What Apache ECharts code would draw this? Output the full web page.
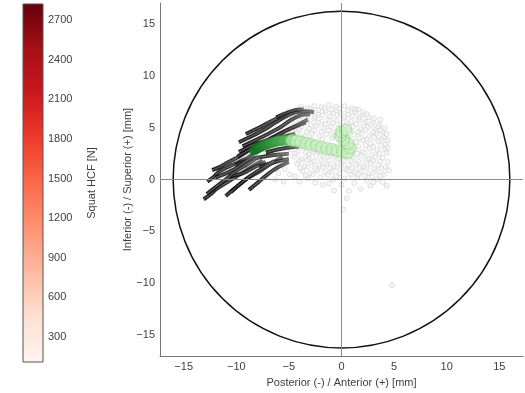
<!DOCTYPE html>
<html><head><meta charset="utf-8">
<script src="https://cdn.jsdelivr.net/npm/echarts@6/dist/echarts.min.js"></script>
<style>html,body{margin:0;padding:0;background:#fff}#c{width:525px;height:393px}</style>
</head><body><div id="c"></div>
<script>
// ---- colorbar ----
const cbMin = 111, cbMax = 2821;
const cbTicks = [300, 600, 900, 1200, 1500, 1800, 2100, 2400, 2700];
const cbTitle = 'Squat HCF [N]';
// ---- main axes ----
const xTicks = [-15, -10, -5, 0, 5, 10, 15];
const yTicks = [-15, -10, -5, 0, 5, 10, 15];
const xName = 'Posterior (-) / Anterior (+) [mm]';
const yName = 'Inferior (-) / Superior (+) [mm]';
const circleRadius = 16;
// ---- dark trajectories (mm) ----
const darkTraces = [
  [[-13.1,-1.9],[-12.4,-1.4],[-12.0,-1.0],[-11.0,-0.35],[-10.3,0.1],[-9.75,0.45],[-8.5,1.23],[-7.5,1.87]],
  [[-12.75,-0.2],[-12.1,0.3],[-11.65,0.76],[-10.4,1.4],[-9.1,2.0],[-8.2,2.66]],
  [[-12.3,0.9],[-11.6,1.2],[-11.0,1.55],[-9.75,2.2],[-8.8,2.8]],
  [[-11.0,-1.6],[-10.1,-0.8],[-9.1,0.0],[-7.85,0.76],[-6.9,1.4],[-5.6,2.2]],
  [[-8.8,-1.0],[-7.85,-0.2],[-6.9,0.6],[-5.95,1.23],[-5.0,1.7]],
  [[-10.7,0.3],[-9.4,0.6],[-8.2,1.23],[-7.2,1.7]],
  [[-9.75,3.6],[-8.5,4.2],[-7.2,4.9],[-6.3,5.5],[-5.3,6.1],[-4.4,6.5],[-3.4,6.6],[-2.6,6.5]],
  [[-9.75,2.66],[-8.5,3.3],[-7.2,3.77],[-5.95,4.4],[-4.7,5.0],[-3.4,5.5]],
  [[-9.1,4.4],[-7.85,5.0],[-6.6,5.67],[-5.6,6.1],[-4.8,6.4]],
  [[-8.2,3.1],[-6.9,3.6],[-5.6,4.1],[-4.4,4.4]],
  [[-10.1,1.4],[-8.5,2.0],[-6.6,2.35],[-5.0,2.5]],
  [[-7.85,1.23],[-6.3,1.7],[-5.0,2.0]],
  [[-12.8,-1.4],[-11.8,-0.6],[-10.9,0.1],[-9.9,0.9],[-8.9,1.5],[-7.9,2.2]],
  [[-12.0,0.2],[-11.2,0.5],[-10.2,1.0],[-9.3,1.6],[-8.4,2.3]],
  [[-10.5,-1.2],[-9.6,-0.4],[-8.6,0.4],[-7.5,1.1],[-6.4,1.8]],
  [[-9.9,2.2],[-8.9,2.8],[-7.8,3.4],[-6.7,3.9],[-5.5,4.6],[-4.3,5.2],[-3.2,5.8]],
  [[-9.4,3.2],[-8.2,3.8],[-7.0,4.4],[-5.9,5.0],[-4.9,5.7],[-3.9,6.2],[-3.0,6.3]],
  [[-6.2,6.0],[-5.3,6.4],[-4.4,6.7],[-3.6,6.8]],
  [[-7.2,2.6],[-6.1,2.9],[-5.0,3.1],[-4.0,3.2]]
];
// ---- light grey cloud (mm) ----
const cloudPts = [
  [-3.2,6.9],[-2.6,7.1],[-1.9,7.0],[-1.2,7.2],[-0.5,7.0],[0.3,7.1],[1.0,6.9],[1.6,6.8],
  [-4.3,6.2],[-3.6,6.4],[-2.9,6.5],[-2.2,6.3],[-1.5,6.6],[-0.8,6.4],[-0.1,6.5],[0.6,6.3],[1.3,6.5],[2.0,6.2],[2.6,6.0],
  [-4.8,5.6],[-4.0,5.8],[-3.3,5.7],[-2.6,5.9],[-1.9,5.6],[-1.2,5.8],[-0.5,5.7],[0.2,5.9],[0.9,5.6],[1.6,5.8],[2.3,5.6],[3.0,5.5],[3.6,5.3],
  [-4.5,5.0],[-3.8,5.1],[-3.1,4.9],[-2.4,5.2],[-1.7,5.0],[-1.0,5.1],[-0.3,5.0],[1.1,5.1],[1.8,4.9],[2.5,5.1],[3.2,4.8],[3.9,4.6],
  [-4.9,4.3],[-4.2,4.5],[-3.5,4.2],[-2.8,4.4],[-2.1,4.2],[-1.4,4.4],[-0.7,4.2],[1.2,4.3],[1.9,4.5],[2.6,4.2],[3.3,4.4],[4.0,4.1],
  [-4.6,3.5],[-3.9,3.7],[1.4,3.6],[2.1,3.8],[2.8,3.5],[3.5,3.7],[4.2,3.4],
  [-4.8,2.9],[-4.1,2.7],[-3.4,2.6],[-2.7,2.7],[1.3,2.9],[2.0,2.7],[2.7,3.0],[3.4,2.8],[4.1,2.9],
  [-4.5,2.2],[-3.8,2.0],[-3.1,2.1],[-2.4,2.3],[-1.7,2.1],[-1.0,2.3],[-0.3,2.0],[0.4,2.2],[1.1,2.1],[1.8,2.3],[2.5,2.0],[3.2,2.2],[3.9,2.1],
  [-4.2,1.5],[-3.5,1.3],[-2.8,1.6],[-2.1,1.4],[-1.4,1.5],[-0.7,1.3],[0.0,1.6],[0.7,1.4],[1.4,1.5],[2.1,1.3],[2.8,1.6],[3.5,1.4],[4.2,1.2],
  [-3.7,0.8],[-3.0,0.6],[-2.3,0.9],[-1.6,0.7],[-0.9,0.8],[-0.2,0.6],[0.5,0.9],[1.2,0.7],[1.9,0.8],[2.6,0.6],[3.3,0.8],[4.0,0.5],
  [-3.2,0.1],[-2.0,0.2],[-0.8,0.0],[0.3,0.1],[1.5,0.2],[2.4,-0.1],[3.4,0.0],
  [-0.7,-1.05],[0.7,-1.1],[0.5,-1.8],[0.2,-2.9],[4.3,-0.6],[2.75,-0.6],[4.8,-10.2],[-1.8,-0.5],[1.8,-0.9],
  [-5.5,6.3],[-6.2,5.9],[-5.8,4.8],[-6.3,0.0],[-5.5,-0.2],
  [-1.8,3.9],[-0.9,4.0],[0.6,4.1],[-2.5,3.1],[0.9,2.8],
  [-2.9,6.8],[-2.2,6.7],[-1.6,6.9],[-0.9,6.75],[-0.2,6.85],[0.6,6.7],[1.3,6.75],[2.1,6.5],
  [-4.6,6.0],[-3.9,6.1],[-3.2,6.2],[-2.5,6.05],[-1.8,6.2],[-1.1,6.1],[-0.4,6.25],[0.3,6.05],[1.0,6.15],[1.7,6.0],[2.4,6.3],[3.1,5.9],[3.7,5.8],
  [-4.3,5.35],[-3.6,5.45],[-2.9,5.3],[-2.2,5.5],[-1.5,5.35],[-0.8,5.45],[-0.1,5.3],[0.6,5.4],[1.4,5.35],[2.1,5.45],[2.8,5.3],[3.5,5.1],[4.1,5.0],
  [-4.7,4.7],[-4.0,4.8],[-3.3,4.6],[-2.6,4.75],[-1.9,4.6],[-1.2,4.75],[-0.6,4.6],[0.9,4.7],[1.6,4.6],[2.3,4.8],[3.0,4.6],[3.7,4.75],[4.3,4.4],
  [-4.4,3.9],[-3.7,4.0],[-3.0,3.85],[1.7,4.0],[2.4,3.9],[3.1,4.05],[3.8,3.9],[4.4,3.8],
  [-4.3,3.2],[-3.6,3.1],[1.6,3.2],[2.3,3.3],[3.0,3.15],[3.7,3.3],[4.4,3.1],
  [-4.4,2.5],[-3.1,2.45],[-2.0,2.6],[-1.3,2.5],[1.5,2.5],[2.2,2.55],[2.9,2.4],[3.6,2.5],[4.3,2.6],
  [-4.0,1.8],[-3.3,1.9],[-2.6,1.75],[-1.9,1.9],[-1.2,1.8],[-0.5,1.9],[0.2,1.8],[0.9,1.85],[1.6,1.75],[2.3,1.9],[3.0,1.8],[3.7,1.75],[4.4,1.7],
  [-3.9,1.1],[-3.2,1.2],[-2.5,1.05],[-1.8,1.2],[-1.1,1.1],[-0.4,1.2],[0.3,1.05],[1.0,1.15],[1.7,1.1],[2.4,1.2],[3.1,1.05],[3.8,1.1],[4.5,0.9],
  [-3.4,0.4],[-2.7,0.5],[-1.3,0.45],[-0.5,0.3],[0.9,0.45],[1.6,0.5],[2.2,0.35],[2.9,0.3],[3.7,0.35],
  [-2.5,-0.3],[-1.2,-0.4],[0.0,-0.5],[1.2,-0.35],[3.0,-0.3],[3.9,-0.25],
  [-5.2,5.3],[-5.0,6.6],[-4.2,6.8],[-3.8,7.0],[-5.4,1.0],[-6.0,0.6],[-4.9,0.5],[-4.4,0.3],[-4.0,-0.2]
];
// ---- green mean trajectory (mm) ----
const greenPath = [
  [-8.3,2.8],[-8.15,2.9],[-8.0,3.0],[-7.85,3.08],[-7.7,3.15],[-7.55,3.22],[-7.4,3.3],[-7.25,3.35],[-7.1,3.4],
  [-6.95,3.45],[-6.8,3.5],[-6.65,3.55],[-6.5,3.6],[-6.35,3.64],[-6.2,3.68],[-6.05,3.71],[-5.9,3.74],
  [-5.75,3.76],[-5.6,3.78],[-5.45,3.79],[-5.3,3.8],[-5.15,3.8],[-5.0,3.8],[-4.7,3.78],[-4.3,3.72],
  [-3.9,3.62],[-3.4,3.5],[-2.9,3.38],[-2.4,3.25],[-1.9,3.12],[-1.4,3.0],[-0.9,2.9],[-0.4,2.78],
  [0.1,2.68],[0.6,2.6],[0.8,3.05],[0.6,3.5],[0.2,3.85],[-0.1,4.2],[0.0,4.6],[0.4,4.8]
];
const greenDarkCount = 23;

const txt = '#404040';
const font = 'Liberation Sans, Arial, sans-serif';
const chart = echarts.init(document.getElementById('c'), null, {renderer: 'canvas'});

function lerp(a, b, t) { return Math.round(a + (b - a) * t); }
const greenData = greenPath.map(function (p, i) {
  if (i < greenDarkCount) {
    const t = i / (greenDarkCount - 1);
    return {
      value: p, symbolSize: 10,
      itemStyle: {
        color: 'rgb(' + lerp(15, 100, t) + ',' + lerp(110, 190, t) + ',' + lerp(30, 100, t) + ')',
        borderColor: 'rgba(20,120,35,0.4)', borderWidth: 0.6
      }
    };
  }
  return {
    value: p, symbolSize: 12,
    itemStyle: {color: 'rgba(194,237,186,0.82)', borderColor: 'rgba(130,205,120,0.95)', borderWidth: 0.7}
  };
});

const series = [];
// colorbar
series.push({
  type: 'custom', xAxisIndex: 0, yAxisIndex: 0, silent: true, clip: false,
  data: [[cbMin, cbMax]],
  renderItem: function (params, api) {
    const top = api.coord([0, api.value(1)]);
    const bot = api.coord([0, api.value(0)]);
    const cs = params.coordSys;
    return {
      type: 'rect',
      shape: {x: cs.x, y: top[1], width: cs.width, height: bot[1] - top[1]},
      style: {
        fill: new echarts.graphic.LinearGradient(0, 0, 0, 1, [
          {offset: 0, color: '#67000d'}, {offset: 0.125, color: '#a50f15'},
          {offset: 0.25, color: '#cb181d'}, {offset: 0.375, color: '#ef3b2c'},
          {offset: 0.5, color: '#fb6a4a'}, {offset: 0.625, color: '#fc9272'},
          {offset: 0.75, color: '#fcbba1'}, {offset: 0.875, color: '#fee0d2'},
          {offset: 1, color: '#fff5f0'}
        ]),
        stroke: '#555', lineWidth: 1
      }
    };
  }
});
// reference circle + crosshair
series.push({
  type: 'custom', xAxisIndex: 1, yAxisIndex: 1, silent: true, clip: false, z: 1,
  data: [[0, 0, circleRadius]],
  renderItem: function (params, api) {
    const c = api.coord([api.value(0), api.value(1)]);
    const r = api.size([api.value(2), 0])[0];
    return {type: 'circle', shape: {cx: c[0], cy: c[1], r: r}, style: {fill: 'none', stroke: '#111', lineWidth: 1.5}};
  },
  markLine: {
    silent: true, symbol: 'none', label: {show: false},
    lineStyle: {color: '#8a8a8a', width: 1, type: 'solid'},
    data: [{xAxis: 0}, {yAxis: 0}]
  }
});
// grey cloud
series.push({
  type: 'scatter', xAxisIndex: 1, yAxisIndex: 1, silent: true, z: 2,
  data: cloudPts, symbolSize: 5,
  itemStyle: {color: 'rgba(240,240,240,0.7)', borderColor: 'rgba(205,205,205,0.9)', borderWidth: 0.8}
});
// dark traces: dark tube with lighter core
darkTraces.forEach(function (tr) {
  series.push({
    type: 'line', xAxisIndex: 1, yAxisIndex: 1, silent: true, z: 3, smooth: 0.3,
    data: tr, showSymbol: false,
    lineStyle: {
      color: new echarts.graphic.LinearGradient(0, 0, 1, 0, [
        {offset: 0, color: 'rgba(10,10,10,0.92)'}, {offset: 0.7, color: 'rgba(40,40,40,0.88)'},
        {offset: 1, color: 'rgba(100,100,100,0.8)'}
      ]),
      width: 4
    }
  });
  series.push({
    type: 'line', xAxisIndex: 1, yAxisIndex: 1, silent: true, z: 3, smooth: 0.3,
    data: tr, showSymbol: false,
    lineStyle: {color: 'rgba(130,130,130,0.6)', width: 1.1}
  });
});
// green
series.push({
  type: 'scatter', xAxisIndex: 1, yAxisIndex: 1, silent: true, z: 4,
  data: greenData
});

function fmtMinus(v) { return v < 0 ? '\u2212' + Math.abs(v) : String(v); }

chart.setOption({
  animation: false,
  backgroundColor: '#fff',
  textStyle: {fontFamily: font},
  grid: [
    {left: 23, top: 4, width: 20, height: 358},
    {left: 160, top: 3, right: 2, height: 359}
  ],
  xAxis: [
    {gridIndex: 0, type: 'value', min: -1, max: 1, show: false},
    {gridIndex: 1, type: 'value', min: -17.25, max: 17.25,
      axisLine: {show: true, onZero: false, lineStyle: {color: '#777', width: 1}},
      axisTick: {show: false}, splitLine: {show: false},
      axisLabel: {customValues: xTicks, color: txt, fontSize: 11, fontFamily: font, margin: 5, formatter: fmtMinus},
      name: xName, nameLocation: 'middle', nameGap: 15,
      nameTextStyle: {color: txt, fontSize: 11, fontFamily: font}}
  ],
  yAxis: [
    {gridIndex: 0, type: 'value', min: cbMin, max: cbMax, position: 'right',
      axisLine: {show: false}, axisTick: {show: false}, splitLine: {show: false},
      axisLabel: {customValues: cbTicks, color: txt, fontSize: 11, fontFamily: font, margin: 5,
        formatter: function (v) { return String(v); }},
      name: cbTitle, nameLocation: 'middle', nameGap: 43, nameRotate: 90, nameMoveOverlap: false,
      nameTextStyle: {color: txt, fontSize: 11, fontFamily: font}},
    {gridIndex: 1, type: 'value', min: -17.05, max: 17.05,
      axisLine: {show: true, onZero: false, lineStyle: {color: '#777', width: 1}},
      axisTick: {show: false}, splitLine: {show: false},
      axisLabel: {customValues: yTicks, color: txt, fontSize: 11, fontFamily: font, margin: 5, formatter: fmtMinus},
      name: yName, nameLocation: 'middle', nameGap: 27, nameRotate: 90, nameMoveOverlap: false,
      nameTextStyle: {color: txt, fontSize: 11, fontFamily: font}}
  ],
  series: series
});
</script></body></html>
